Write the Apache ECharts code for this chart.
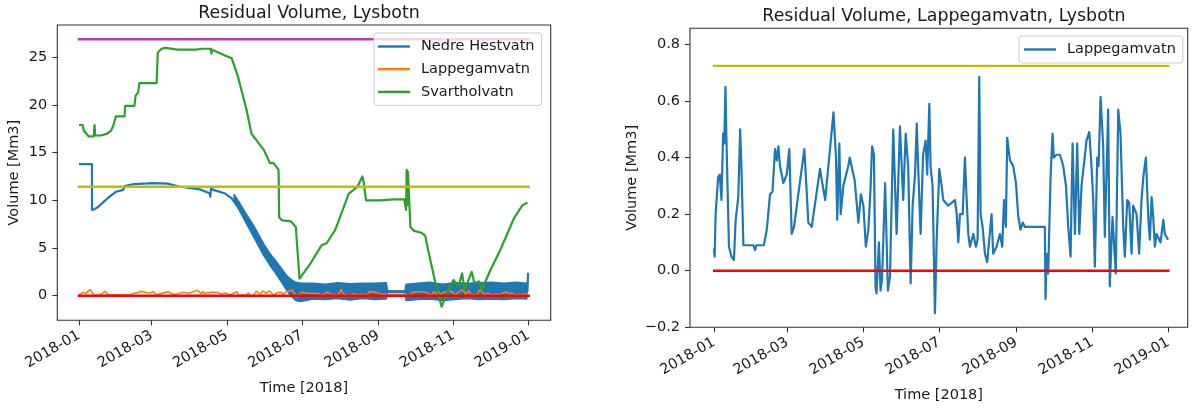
<!DOCTYPE html>
<html>
<head>
<meta charset="utf-8">
<title>Residual Volume, Lysbotn</title>
<script src="https://cdn.jsdelivr.net/npm/echarts@6/dist/echarts.min.js"></script>
<style>
  html, body { margin: 0; padding: 0; background: #fff; }
  #chart { width: 1192px; height: 408px; }
</style>
</head>
<body>
<div id="chart"></div>
<script>
// Time is expressed in days since 2018-01-01 00:00.
const xTickDays = [0, 59, 120, 181, 243, 304, 365];
const xTickLabels = ['2018-01', '2018-03', '2018-05', '2018-07', '2018-09', '2018-11', '2019-01'];
const leftYTicks = [0, 5, 10, 15, 20, 25];
const rightYTicks = [-0.2, 0.0, 0.2, 0.4, 0.6, 0.8];

// Nedre Hestvatn, main trace [Mm3]
const nedreDays = [0, 10.5, 10.6, 13, 15.5, 18, 23, 30, 36, 37, 44.5, 60, 72, 72.5, 73, 81, 98, 106, 106.6, 107.2, 109, 118, 124, 129, 135, 140, 150, 156, 162, 168, 174, 180, 250, 251, 264, 265, 364, 364.5];
const nedreVals = [13.8, 13.8, 9.0, 9.1, 9.3, 9.6, 10.2, 10.9, 11.1, 11.5, 11.7, 11.8, 11.75, 11.95, 11.7, 11.45, 11.15, 10.75, 10.4, 11.3, 11.1, 10.75, 10.2, 9.3, 8.2, 7.2, 4.8, 3.8, 2.9, 1.5, 0.6, 0.4, 0.45, 0.42, 0.42, 0.45, 0.45, 2.4];

// Nedre Hestvatn, envelope of the fast hourly oscillation [Mm3]
const nedreBandDays = [126, 130, 135, 140, 145, 150, 155, 160, 164, 168, 172, 176, 180, 190, 200, 210, 220, 230, 240, 249.5, 250.5, 264.5, 265.5, 275, 285, 295, 305, 315, 325, 335, 345, 355, 363.5];
const nedreBandLo = [10.0, 9.0, 7.8, 6.6, 5.4, 4.2, 3.2, 2.3, 1.5, 0.7, 0.0, -0.5, -0.6, -0.35, -0.4, -0.3, -0.45, -0.3, -0.4, -0.35, 0.38, 0.38, -0.5, -0.4, -0.35, -0.5, -0.4, -0.3, -0.4, -0.35, -0.4, -0.3, -0.35];
const nedreBandHi = [10.6, 9.8, 8.7, 7.7, 6.6, 5.4, 4.4, 3.6, 2.9, 2.2, 1.7, 1.4, 1.3, 1.3, 1.2, 1.35, 1.25, 1.3, 1.3, 1.35, 0.48, 0.48, 1.2, 1.3, 1.4, 1.2, 1.35, 1.3, 1.35, 1.4, 1.3, 1.4, 1.3];

// Svartholvatn [Mm3]
const svartDays = [0, 3, 4, 8, 12, 12.6, 13.2, 18, 23, 26, 28, 30, 37, 37.5, 45, 46, 48, 49, 63, 64, 67, 70, 80, 95, 100, 107, 107.5, 108, 118.5, 124, 129, 136, 140, 150, 155, 158, 162, 162.5, 165, 172, 176, 179, 180, 188, 197, 201, 208, 219, 226, 230, 231, 233, 245, 255, 264, 265, 265.5, 266, 266.5, 267, 268, 269, 272, 278, 281, 283.4, 290, 294.4, 298.5, 304, 308, 311, 313, 318.7, 321, 324.7, 327, 334, 342, 353, 360, 364];
const svartVals = [17.9, 17.9, 17.3, 16.7, 16.7, 17.9, 16.8, 16.8, 17.0, 17.3, 17.9, 18.8, 18.8, 19.9, 19.9, 21.0, 21.3, 22.3, 22.3, 25.5, 25.9, 26.0, 25.8, 25.8, 25.9, 25.9, 25.4, 25.8, 25.2, 24.9, 23.0, 19.5, 17.0, 15.3, 13.9, 13.9, 13.2, 8.2, 7.9, 7.8, 7.2, 1.8, 1.65, 3.4, 5.3, 5.5, 6.9, 10.7, 11.4, 12.5, 12.0, 10.0, 10.0, 10.1, 10.1, 10.3, 9.0, 13.2, 9.5, 13.0, 10.2, 7.2, 6.8, 6.6, 6.3, 4.8, 0.95, -1.15, 0.25, 1.65, 0.95, 2.35, 0.6, 2.5, 1.3, 1.5, 0.6, 2.7, 4.8, 8.1, 9.5, 9.75];

// Lappegamvatn [Mm3]
const lappDays = [0, 0.5, 1.3, 3.3, 4.6, 6, 7.3, 8.2, 9.2, 10, 12, 14, 16, 17.4, 19.5, 21, 22, 23.6, 31.6, 33, 34, 40, 42.4, 45, 47, 49, 50.4, 51.7, 53, 55.7, 58.4, 60.5, 62.4, 64.3, 67.7, 72.6, 75.8, 78.5, 85.2, 87, 89.3, 96, 98, 99, 100.7, 101.8, 103.9, 107.9, 109, 113, 116, 118, 120, 122, 124, 125.7, 127, 128.5, 129.8, 130.6, 132.5, 133.8, 135, 137.5, 139.7, 141.4, 144, 146.7, 149.4, 152, 154, 156, 158, 159.6, 161.5, 162.9, 164, 166, 168, 170, 171.3, 173, 174, 175.6, 177.5, 178.9, 181, 182.9, 184.2, 188.2, 190.9, 193.6, 195, 196.3, 197.6, 199.8, 201.6, 203, 204.3, 205.6, 208.3, 210.5, 211.8, 213.1, 214.2, 215.8, 217.7, 219.5, 221, 223, 224.3, 227, 229.7, 231.6, 233, 234.5, 235.6, 237.8, 240.4, 242.6, 244.5, 246.3, 248, 249.8, 265.8, 266.4, 267.2, 268.5, 270.4, 272, 273, 275.2, 277.9, 280.6, 282.8, 284.6, 286.5, 288.1, 290, 291.8, 293.5, 295.3, 299.3, 301.5, 303.3, 304.7, 306, 307.9, 309, 310.6, 312.7, 314, 316.7, 318, 320.2, 322.8, 324.8, 326.6, 328.8, 330.1, 332, 333.6, 335.5, 336.8, 339.5, 341.6, 343.5, 344.9, 347, 349, 350.2, 351.6, 352.9, 354.2, 355.6, 357, 358.8, 361, 362.2, 363.6, 364.9];
const lappVals = [0.079, 0.05, 0.2, 0.33, 0.34, 0.25, 0.485, 0.45, 0.65, 0.46, 0.085, 0.05, 0.038, 0.18, 0.26, 0.5, 0.37, 0.09, 0.09, 0.073, 0.09, 0.09, 0.145, 0.27, 0.28, 0.43, 0.39, 0.44, 0.37, 0.31, 0.34, 0.43, 0.13, 0.155, 0.27, 0.43, 0.17, 0.155, 0.36, 0.31, 0.25, 0.56, 0.40, 0.18, 0.45, 0.2, 0.3, 0.37, 0.40, 0.32, 0.17, 0.27, 0.23, 0.085, 0.145, 0.285, 0.44, 0.41, -0.06, -0.08, 0.10, -0.07, -0.03, 0.31, -0.07, -0.02, 0.5, 0.13, 0.51, 0.25, 0.485, 0.37, -0.045, 0.23, 0.34, 0.52, 0.37, 0.13, 0.41, 0.46, 0.34, 0.59, 0.37, 0.30, -0.15, 0.11, 0.36, 0.30, 0.25, 0.23, 0.24, 0.25, 0.20, 0.10, 0.20, 0.20, 0.40, 0.25, 0.13, 0.085, 0.13, 0.085, 0.11, 0.685, 0.20, 0.155, 0.06, 0.03, 0.03, 0.20, 0.06, 0.085, 0.13, 0.085, 0.25, 0.155, 0.47, 0.39, 0.37, 0.31, 0.19, 0.145, 0.17, 0.155, 0.155, -0.10, 0.06, -0.01, 0.33, 0.485, 0.40, 0.41, 0.41, 0.37, 0.30, 0.155, 0.05, 0.45, 0.13, 0.45, 0.13, 0.30, 0.46, 0.49, 0.37, 0.25, 0.014, 0.40, 0.37, 0.615, 0.44, 0.12, 0.57, -0.055, 0.19, -0.01, 0.57, 0.485, 0.155, 0.05, 0.25, 0.24, 0.06, 0.23, 0.20, 0.06, 0.25, 0.33, 0.40, 0.18, 0.11, 0.26, 0.19, 0.085, 0.13, 0.13, 0.10, 0.18, 0.13, 0.125, 0.11];

// Reference levels drawn across the year [Mm3]
const levelSpan = [0, 365];
const leftLevels = [
  { name: 'Minimum', value: 0, color: '#ff0000' },
  { name: 'Nedre Hestvatn capacity', value: 11.43, color: '#bfbf00' },
  { name: 'Svartholvatn capacity', value: 26.9, color: '#b43cb4' }
];
const rightLevels = [
  { name: 'Minimum', value: 0, color: '#ff0000' },
  { name: 'Lappegamvatn capacity', value: 0.724, color: '#bfbf00' }
];

const C_BLUE = '#1f77b4', C_ORANGE = '#ff7f0e', C_GREEN = '#2ca02c';
const FONT = 'DejaVu Sans';
const TXT = '#1a1a1a';
const LW = 2.2;

const pairs = (xs, ys) => xs.map((x, i) => [x, ys[i]]);

function lineSeries(name, data, color, axisIdx, extra) {
  return Object.assign({
    type: 'line', name, data, color,
    xAxisIndex: axisIdx, yAxisIndex: axisIdx,
    showSymbol: false, symbol: 'none', animation: false,
    lineStyle: { color, width: LW, join: 'round' },
    emphasis: { disabled: true }
  }, extra || {});
}

function levelSeries(lv, axisIdx) {
  return lineSeries(lv.name, levelSpan.map(d => [d, lv.value]), lv.color, axisIdx,
    { lineStyle: { color: lv.color, width: 2.4, cap: 'square' } });
}

// Filled envelope of the oscillating Nedre Hestvatn trace: upper edge forward, lower edge back.
const bandSeries = {
  type: 'custom', name: 'Nedre Hestvatn range',
  xAxisIndex: 0, yAxisIndex: 0, animation: false, clip: true,
  data: [[nedreBandDays[0], nedreBandHi[0]]],
  renderItem: (params, api) => {
    const pts = [];
    for (let i = 0; i < nedreBandDays.length; i++) pts.push(api.coord([nedreBandDays[i], nedreBandHi[i]]));
    for (let i = nedreBandDays.length - 1; i >= 0; i--) pts.push(api.coord([nedreBandDays[i], nedreBandLo[i]]));
    return {
      type: 'polygon',
      shape: { points: pts },
      style: { fill: C_BLUE, stroke: C_BLUE, lineWidth: 1.6, lineJoin: 'round' }
    };
  }
};

function xAxisOf(gridIndex, min, max) {
  return {
    type: 'value', gridIndex, min, max,
    name: 'Time [2018]', nameLocation: 'middle', nameGap: 60,
    nameTextStyle: { fontFamily: FONT, fontSize: 14.5, color: TXT },
    axisLine: { show: false, onZero: false },
    axisTick: { show: true, length: 5, customValues: xTickDays, lineStyle: { color: '#333', width: 1.1 } },
    axisLabel: {
      customValues: xTickDays, rotate: 30, margin: 14,
      fontFamily: FONT, fontSize: 14.5, color: TXT,
      formatter: v => xTickLabels[xTickDays.indexOf(v)]
    },
    splitLine: { show: false }
  };
}

function yAxisOf(gridIndex, min, max, ticks, fmt, gap) {
  return {
    type: 'value', gridIndex, min, max,
    name: 'Volume [Mm3]', nameLocation: 'middle', nameGap: gap, nameRotate: 90,
    nameTextStyle: { fontFamily: FONT, fontSize: 14.5, color: TXT },
    axisLine: { show: false, onZero: false },
    axisTick: { show: true, length: 5, customValues: ticks, lineStyle: { color: '#333', width: 1.1 } },
    axisLabel: { customValues: ticks, margin: 10, fontFamily: FONT, fontSize: 14.5, color: TXT, formatter: fmt },
    splitLine: { show: false }
  };
}

const legendBase = {
  orient: 'vertical', selectedMode: false,
  icon: 'rect', itemWidth: 32, itemHeight: 2.4, itemGap: 5.7,
  itemStyle: { borderWidth: 0 },
  backgroundColor: 'rgba(255,255,255,0.8)',
  borderColor: '#cccccc', borderWidth: 1, borderRadius: 3,
  textStyle: { fontFamily: FONT, fontSize: 14.5, color: TXT, lineHeight: 17, padding: [0, 0, 0, 6] }
};

const series = [
  // left panel
  lineSeries('Nedre Hestvatn', pairs(nedreDays, nedreVals), C_BLUE, 0),
  bandSeries,
  lineSeries('Lappegamvatn', pairs(lappDays, lappVals), C_ORANGE, 0, { lineStyle: { color: C_ORANGE, width: 1.6 } }),
  lineSeries('Svartholvatn', pairs(svartDays, svartVals), C_GREEN, 0),
  ...leftLevels.map(lv => levelSeries(lv, 0)),
  // right panel
  lineSeries('Lappegamvatn', pairs(lappDays, lappVals), C_BLUE, 1),
  ...rightLevels.map(lv => levelSeries(lv, 1))
];

const chart = echarts.init(document.getElementById('chart'), null, { renderer: 'canvas' });
chart.setOption({
  backgroundColor: '#fff',
  animation: false,
  textStyle: { fontFamily: FONT },
  title: [
    { text: 'Residual Volume, Lysbotn', left: 304, top: 0, textAlign: 'center',
      textStyle: { fontFamily: FONT, fontSize: 17.4, fontWeight: 'normal', color: TXT } },
    { text: 'Residual Volume, Lappegamvatn, Lysbotn', left: 939, top: 3, textAlign: 'center',
      textStyle: { fontFamily: FONT, fontSize: 17.4, fontWeight: 'normal', color: TXT } }
  ],
  legend: [
    Object.assign({}, legendBase, {
      left: 374, top: 33, padding: [5, 7, 5, 4],
      data: ['Nedre Hestvatn', 'Lappegamvatn', 'Svartholvatn']
    }),
    Object.assign({}, legendBase, {
      left: 1019, top: 36, padding: [5, 7, 5, 5],
      data: [{ name: 'Lappegamvatn', itemStyle: { color: C_BLUE } }]
    })
  ],
  grid: [
    { left: 57.3, top: 25, width: 493.4, height: 295.3, show: true, borderColor: '#333', borderWidth: 1.1, backgroundColor: 'transparent' },
    { left: 690, top: 28.3, width: 497.7, height: 299, show: true, borderColor: '#333', borderWidth: 1.1, backgroundColor: 'transparent' }
  ],
  xAxis: [xAxisOf(0, -17.6, 382.9), xAxisOf(1, -19.3, 380.6)],
  yAxis: [
    yAxisOf(0, -2.58, 28.39, leftYTicks, v => String(Math.round(v)), 36),
    yAxisOf(1, -0.2, 0.857, rightYTicks, v => v.toFixed(1).replace('-', '\u2212'), 50)
  ],
  series
});
</script>
</body>
</html>
